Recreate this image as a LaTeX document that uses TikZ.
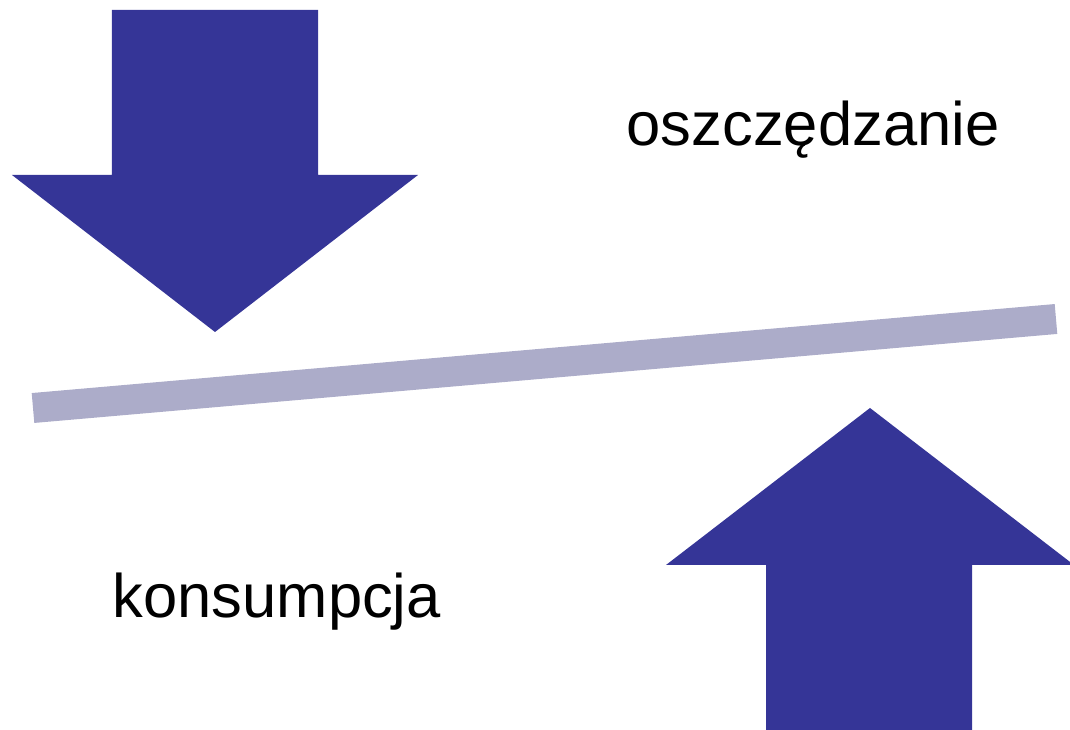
\documentclass[tikz,border=0pt]{standalone}
\usepackage{fontspec}
\setmainfont{Liberation Sans}
\definecolor{arrowblue}{RGB}{53,53,151}
\definecolor{barblue}{RGB}{172,172,201}
\begin{document}
\begin{tikzpicture}[
    bigarrow/.style={fill=arrowblue, draw=none},
    lever/.style={draw=barblue, line width=0.3cm},
    label/.style={inner sep=0pt, anchor=base west, font=\fontsize{17.5}{20}\selectfont}
  ]
      \useasboundingbox (0,0) rectangle (10.7,7.3);
      % lever
      \coordinate (L) at (0.33,3.22);
      \coordinate (R) at (10.56,4.11);
      \draw[lever] (L) -- (R);
      % arrow pressing down on the left
      \coordinate (D) at (2.15,3.98);
      \fill[bigarrow] (1.12,7.20) -- (3.18,7.20) -- (3.18,5.55) -- (4.18,5.55)
        -- (D) -- (0.12,5.55) -- (1.12,5.55) -- cycle;
      % arrow pushing up on the right
      \coordinate (U) at (8.70,3.22);
      \fill[bigarrow] (7.66,0) -- (9.72,0) -- (9.72,1.65) -- (10.74,1.65)
        -- (U) -- (6.66,1.65) -- (7.66,1.65) -- cycle;
      \node[label] (savings) at (6.26,5.84) {oszczędzanie};
      \node[label] (consumption) at (1.12,1.12) {konsumpcja};
    \end{tikzpicture}
\end{document}
